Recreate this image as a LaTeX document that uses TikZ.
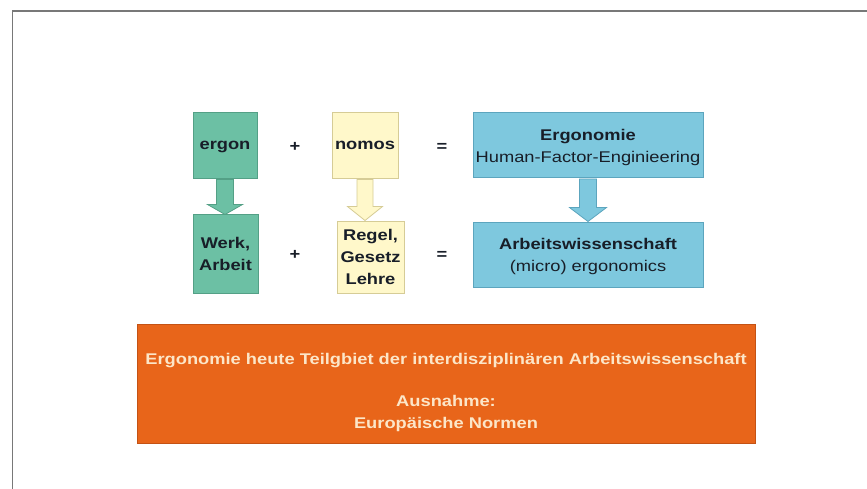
\documentclass[tikz,border=0pt]{standalone}
\usepackage{fontspec}
\setmainfont{Liberation Sans}[FakeStretch=1.18]
\usetikzlibrary{calc}
\definecolor{grn}{RGB}{108,192,164}
\definecolor{grnd}{RGB}{84,160,134}
\definecolor{yel}{RGB}{255,248,202}
\definecolor{yeld}{RGB}{214,204,150}
\definecolor{blu}{RGB}{126,200,222}
\definecolor{blud}{RGB}{92,165,190}
\definecolor{org}{RGB}{232,101,26}
\definecolor{orgd}{RGB}{196,82,20}
\definecolor{txt}{RGB}{24,30,40}
\definecolor{otxt}{RGB}{252,230,200}
\definecolor{frame}{RGB}{120,120,120}
\tikzset{
  box/.style={draw, line width=1pt, inner sep=0pt, align=center, text=txt, text depth=0pt,
    font=\fontsize{15.5}{22}\selectfont\bfseries},
  gbox/.style={box, fill=grn, draw=grnd},
  ybox/.style={box, fill=yel, draw=yeld},
  bbox/.style={box, fill=blu, draw=blud},
  obox/.style={box, fill=org, draw=orgd},
  sym/.style={inner sep=0pt, text=txt, font=\fontsize{15.5}{22}\selectfont\bfseries},
  otext/.style={inner sep=0pt, align=center, text=otxt, font=\fontsize{15.5}{22}\selectfont\bfseries},
  barrow/.style={line width=0.8pt, line join=miter}
}
\begin{document}
\begin{tikzpicture}[x=1pt,y=-1pt]
\useasboundingbox (0,0) rectangle (867,489);
\fill[white] (0,0) rectangle (867,489);
% frame
\coordinate (fbl) at (12.5,489);
\coordinate (ftl) at (12.5,11);
\coordinate (ftr) at (867,11);
\draw[frame, line width=1.5pt] (fbl) -- (ftl) -- (ftr);

% top row
\node[gbox, minimum width=64, minimum height=66] (ergon) at (225,145.5) {ergon};
\node[sym] (plus1) at (295,147) {+};
\node[ybox, minimum width=66, minimum height=66] (nomos) at (365,145.5) {nomos};
\node[sym] (eq1) at (442,147) {=};
\node[bbox, minimum width=230, minimum height=65] (ergo) at (588,145.5)
  {Ergonomie\\\mdseries Human-Factor-Enginieering};

% bottom row
\node[gbox, minimum width=65, minimum height=78] (werk) at (225.5,254) {Werk,\\Arbeit};
\node[sym] (plus2) at (295,255) {+};
\node[ybox, minimum width=67, minimum height=72] (regel) at (370.5,257) {Regel,\\Gesetz\\Lehre};
\node[sym] (eq2) at (442,255) {=};
\node[bbox, minimum width=230, minimum height=65] (arbeit) at (588,254.5)
  {Arbeitswissenschaft\\\mdseries (micro) ergonomics};

% block arrows
\coordinate (gt) at (ergon.south |- werk.north);
\draw[barrow, fill=grn, draw=grnd]
  ($(ergon.south)+(-8.5,0.5)$) -- ($(ergon.south)+(8.5,0.5)$) -- ($(gt)+(8.5,-10)$) --
  ($(gt)+(17.5,-10)$) -- (gt) -- ($(gt)+(-17.5,-10)$) -- ($(gt)+(-8.5,-10)$) -- cycle;
\coordinate (yt) at (nomos.south |- regel.north);
\draw[barrow, fill=yel, draw=yeld]
  ($(nomos.south)+(-8,0.5)$) -- ($(nomos.south)+(8,0.5)$) -- ($(yt)+(8,-14)$) --
  ($(yt)+(17.5,-14)$) -- (yt) -- ($(yt)+(-17.5,-14)$) -- ($(yt)+(-8,-14)$) -- cycle;
\coordinate (bt) at (ergo.south |- arbeit.north);
\draw[barrow, fill=blu, draw=blud]
  ($(ergo.south)+(-8.5,0.5)$) -- ($(ergo.south)+(8.5,0.5)$) -- ($(bt)+(8.5,-14)$) --
  ($(bt)+(18.5,-14)$) -- (bt) -- ($(bt)+(-18.5,-14)$) -- ($(bt)+(-8.5,-14)$) -- cycle;

% orange box
\node[obox, minimum width=618, minimum height=119] (orange) at (446,383.5) {};
\node[otext] (otxt) at ($(orange.center)+(0,8.5)$)
  {Ergonomie heute Teilgbiet der interdisziplinären Arbeitswissenschaft\\[20pt]
   Ausnahme:\\Europäische Normen};
\end{tikzpicture}
\end{document}
